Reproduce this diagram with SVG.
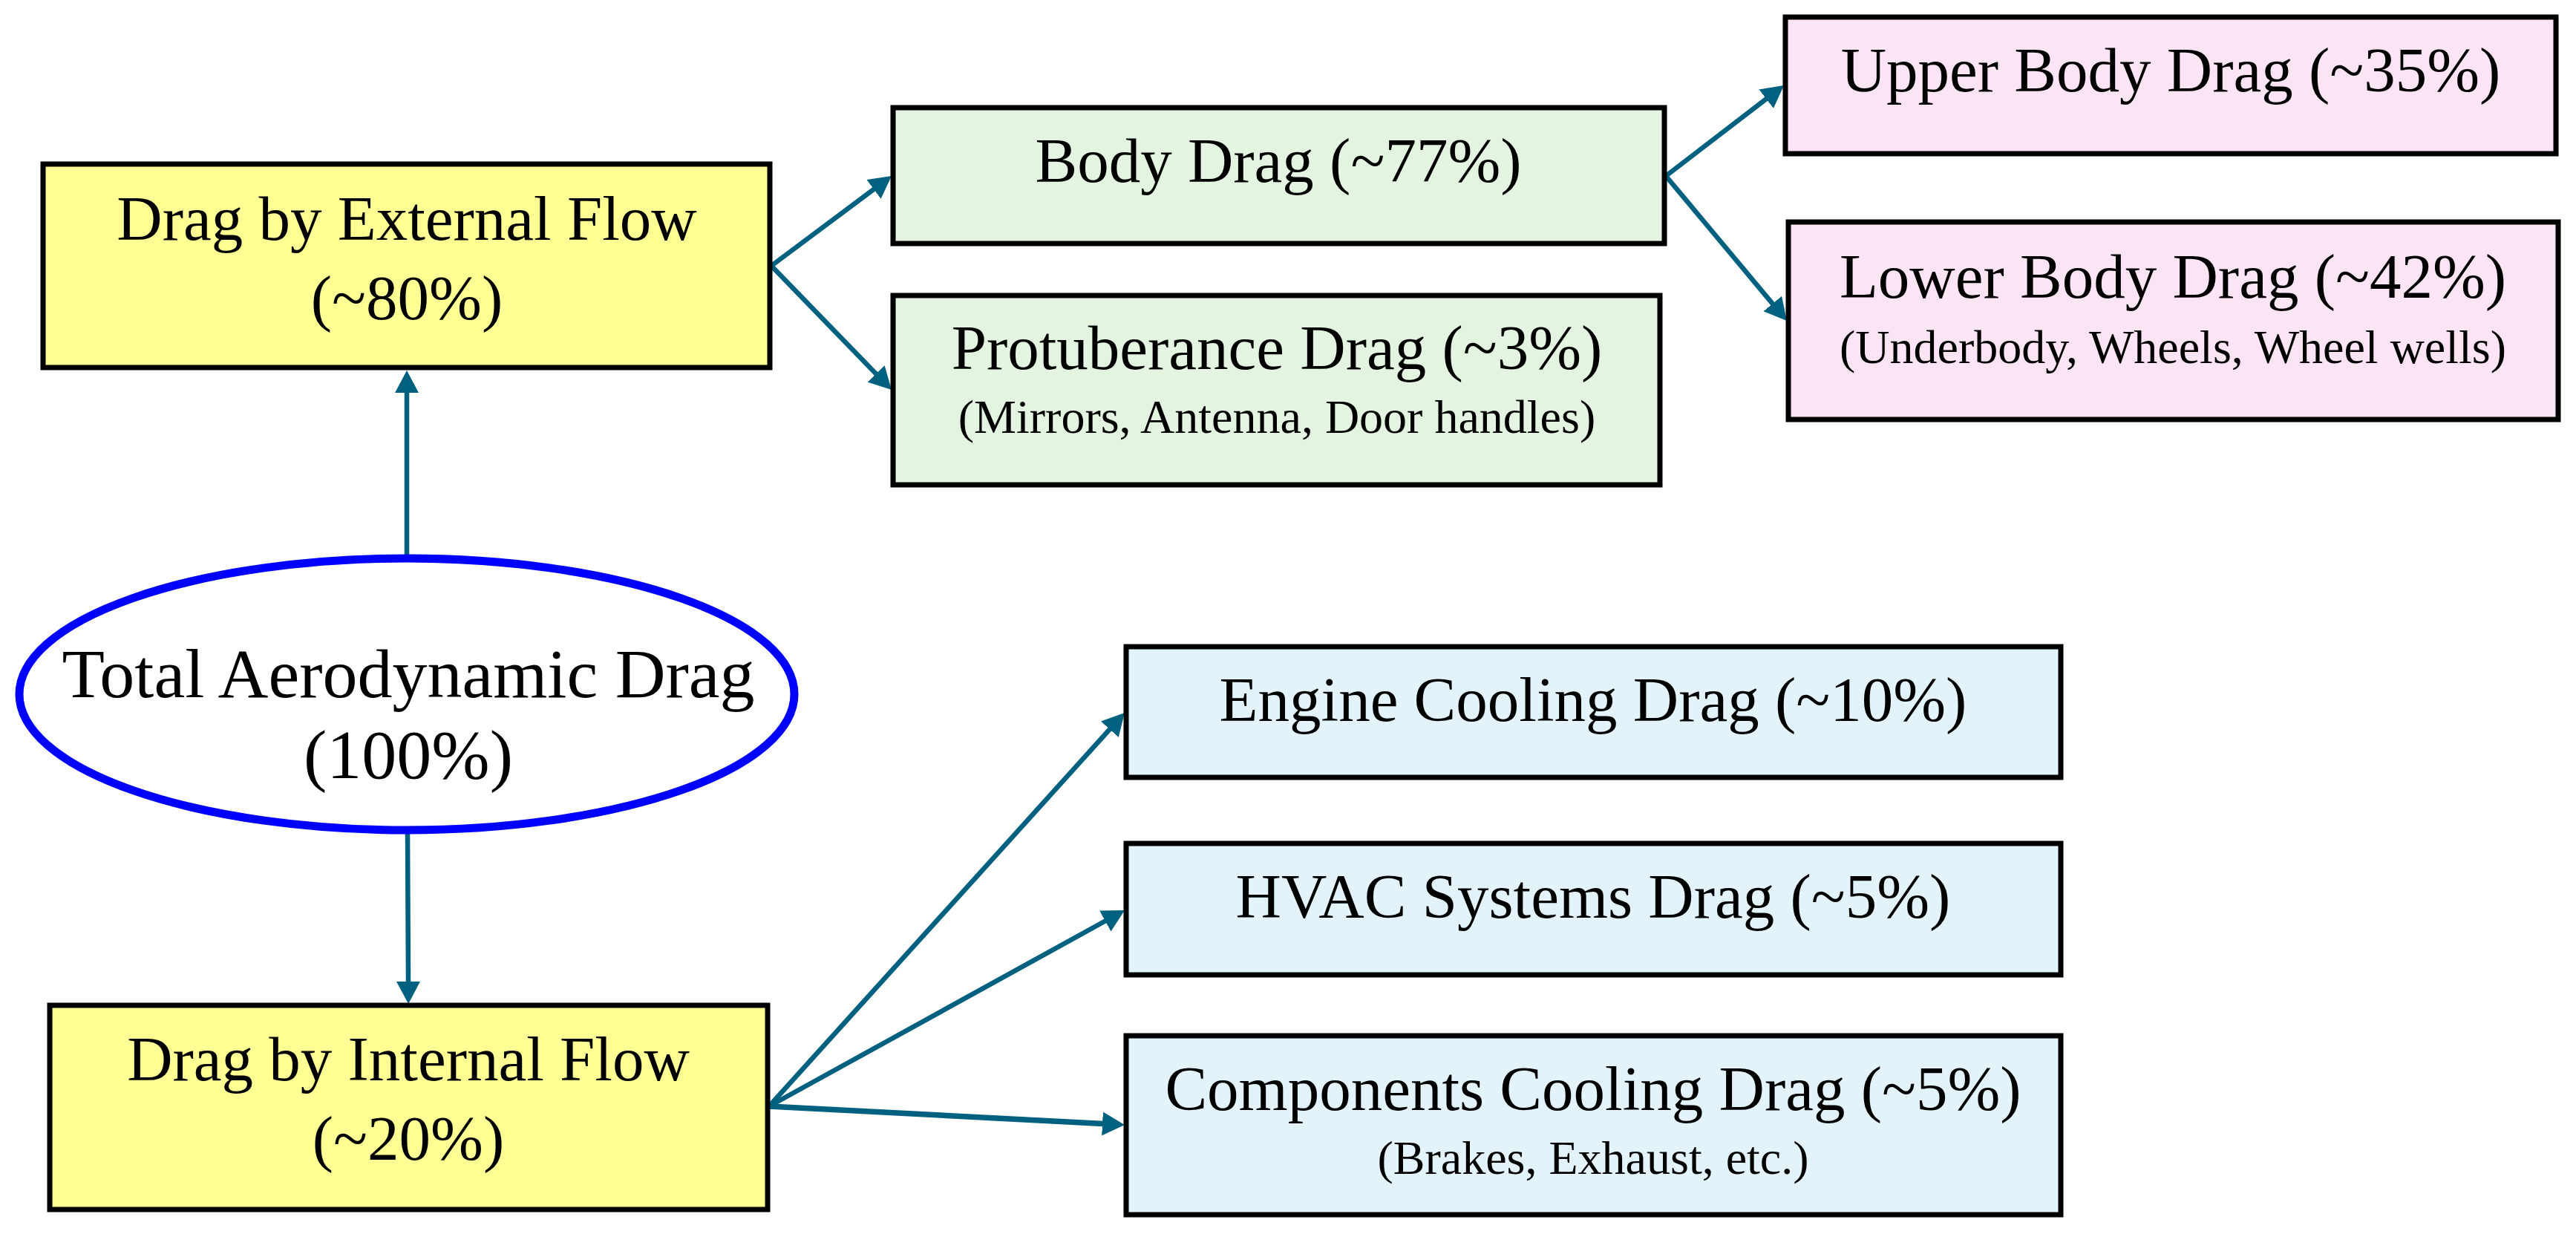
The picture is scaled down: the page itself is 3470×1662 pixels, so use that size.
<svg xmlns="http://www.w3.org/2000/svg" width="3470" height="1662" viewBox="0 0 3470 1662">
  <style>
    .box { stroke: #000000; stroke-width: 7; }
    .yellow { fill: #FFFF94; }
    .green { fill: #E3F5E1; }
    .pink { fill: #FBE4F3; }
    .blue { fill: #E2F3FA; }
    .t { font-family: "Liberation Serif", "Times New Roman", serif; fill: #000000; text-anchor: middle; }
    .main { font-size: 85px; }
    .big { font-size: 94px; }
    .sub { font-size: 64px; }
    .conn { stroke: #00607F; stroke-width: 6.5; fill: none; marker-end: url(#arrow); }
  </style>
  <defs>
    <marker id="arrow" viewBox="0 0 30 32" refX="1" refY="16" markerWidth="30" markerHeight="32" markerUnits="userSpaceOnUse" orient="auto">
      <path d="M0,0 L30,16 L0,32 z" fill="#00607F"/>
    </marker>
  </defs>
  <rect x="0" y="0" width="3470" height="1662" fill="#FFFFFF"/>

  <g id="connectors">
    <line class="conn" x1="548" y1="749" x2="548" y2="528"/>
    <line class="conn" x1="549" y1="1123" x2="550" y2="1323"/>
    <line class="conn" x1="1039" y1="358" x2="1177.8" y2="254.3"/>
    <line class="conn" x1="1039" y1="358" x2="1180.8" y2="504.2"/>
    <line class="conn" x1="2244" y1="237" x2="2380" y2="132.6"/>
    <line class="conn" x1="2244" y1="237" x2="2388.4" y2="409.8"/>
    <line class="conn" x1="1036" y1="1490" x2="1495.5" y2="981.5"/>
    <line class="conn" x1="1036" y1="1490" x2="1489.6" y2="1240"/>
    <line class="conn" x1="1036" y1="1490" x2="1486" y2="1513.5" style="stroke-width:7.5"/>
  </g>

  <g id="total">
    <ellipse cx="548" cy="935" rx="522" ry="183" fill="#FFFFFF" stroke="#0000FF" stroke-width="11"/>
    <text class="t big" x="550" y="939">Total Aerodynamic Drag</text>
    <text class="t big" x="550" y="1048">(100%)</text>
  </g>

  <g id="external">
    <rect class="box yellow" x="58" y="221" width="979" height="274"/>
    <text class="t main" x="548" y="323">Drag by External Flow</text>
    <text class="t main" x="548" y="430">(~80%)</text>
  </g>

  <g id="internal">
    <rect class="box yellow" x="67" y="1354" width="967" height="275"/>
    <text class="t main" x="550" y="1455">Drag by Internal Flow</text>
    <text class="t main" x="550" y="1562">(~20%)</text>
  </g>

  <g id="body">
    <rect class="box green" x="1203" y="145" width="1039" height="183"/>
    <text class="t main" x="1722" y="245">Body Drag (~77%)</text>
  </g>

  <g id="protuberance">
    <rect class="box green" x="1203" y="398" width="1033" height="255"/>
    <text class="t main" x="1720" y="497">Protuberance Drag (~3%)</text>
    <text class="t sub" x="1720" y="583">(Mirrors, Antenna, Door handles)</text>
  </g>

  <g id="upper">
    <rect class="box pink" x="2405" y="23" width="1038" height="184"/>
    <text class="t main" x="2924" y="123">Upper Body Drag (~35%)</text>
  </g>

  <g id="lower">
    <rect class="box pink" x="2409" y="299" width="1037" height="266"/>
    <text class="t main" x="2927" y="401">Lower Body Drag (~42%)</text>
    <text class="t sub" x="2927" y="489">(Underbody, Wheels, Wheel wells)</text>
  </g>

  <g id="engine">
    <rect class="box blue" x="1517" y="871" width="1259" height="176"/>
    <text class="t main" x="2146" y="971">Engine Cooling Drag (~10%)</text>
  </g>

  <g id="hvac">
    <rect class="box blue" x="1517" y="1136" width="1259" height="177"/>
    <text class="t main" x="2146" y="1236">HVAC Systems Drag (~5%)</text>
  </g>

  <g id="components">
    <rect class="box blue" x="1517" y="1395" width="1259" height="241"/>
    <text class="t main" x="2146" y="1495">Components Cooling Drag (~5%)</text>
    <text class="t sub" x="2146" y="1581">(Brakes, Exhaust, etc.)</text>
  </g>
</svg>
